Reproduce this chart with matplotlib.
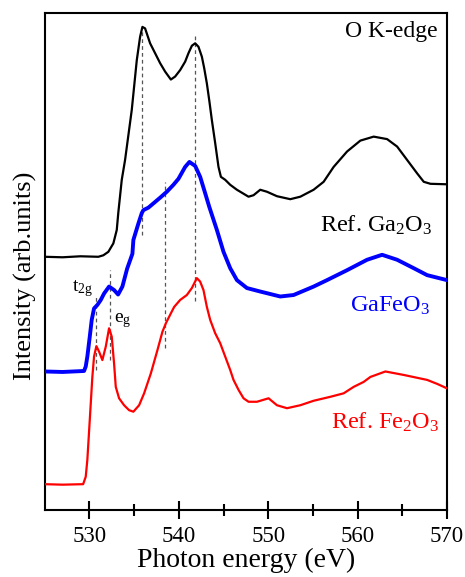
import matplotlib
matplotlib.use("Agg")
import matplotlib.pyplot as plt

plt.rcParams['font.family'] = ['Liberation Serif', 'DejaVu Serif']
plt.rcParams['mathtext.fontset'] = 'custom'
plt.rcParams['mathtext.rm'] = 'Liberation Serif'
plt.rcParams['mathtext.it'] = 'Liberation Serif:italic'

# ---- data (photon energy in eV, intensity in arb. units with offsets) ----
ga2o3_e = [525.0, 527.0, 529.0, 531.0, 531.56, 532.12, 532.68, 533.06, 533.24, 533.62, 533.99,
           534.74, 535.30, 535.67, 535.93, 536.23, 536.79, 537.35, 537.91, 538.47,
           539.11, 539.59, 540.15, 540.71, 541.08, 541.46, 541.83, 542.20, 542.58,
           542.84, 543.14, 543.43, 543.70, 544.07, 544.44, 544.71, 545.19, 545.75,
           546.50, 547.80, 548.36, 549.11, 549.86, 550.98, 552.47, 553.59, 555.08,
           556.20, 557.32, 558.82, 560.31, 561.80, 563.30, 564.42, 565.54, 566.66,
           567.40, 568.15, 570.0]
ga2o3_i = [50.9, 50.8, 51.0, 50.9, 51.2, 51.9, 53.6, 56.3, 59.9, 66.4, 70.4,
           80.5, 90.5, 95.2, 97.2, 96.9, 93.9, 91.9, 89.9, 88.2,
           86.6, 87.2, 88.5, 90.2, 91.9, 93.4, 93.9, 93.2, 91.2,
           88.9, 85.8, 82.1, 78.4, 73.8, 69.0, 67.0, 66.4, 65.4,
           64.4, 63.0, 63.3, 64.4, 64.0, 63.1, 62.5, 63.0, 64.4,
           66.0, 69.0, 72.1, 74.3, 75.1, 74.6, 73.1, 70.4, 67.7,
           66.0, 65.6, 65.5]

gafeo3_e = [525.0, 527.0, 529.40, 529.59, 529.77, 530.04, 530.26, 530.52, 530.89, 531.27,
            531.64, 532.20, 532.76, 533.21, 533.69, 534.22, 534.81, 534.92, 535.48,
            535.86, 536.04, 536.60, 537.91, 538.66, 539.40, 539.96, 540.71, 541.19,
            541.83, 542.39, 542.95, 543.40, 544.26, 545.00, 545.75, 546.50, 547.62,
            549.11, 551.35, 552.84, 555.08, 556.58, 558.82, 561.06, 562.74, 564.42,
            566.28, 567.78, 570.0]
gafeo3_i = [27.8, 27.7, 27.9, 28.8, 30.8, 34.8, 38.2, 40.5, 41.2, 42.2,
            43.5, 44.9, 44.2, 43.3, 44.9, 48.5, 51.5, 54.3, 57.6,
            59.7, 60.3, 60.8, 62.8, 64.0, 65.4, 66.6, 69.0, 70.0,
            69.2, 67.0, 63.7, 61.0, 56.3, 51.9, 48.6, 46.2, 44.6,
            43.9, 42.9, 43.2, 44.9, 46.2, 48.2, 50.3, 51.3, 50.3,
            48.6, 47.2, 46.2]

fe2o3_e = [525.0, 527.0, 529.3, 529.59, 529.77, 530.04, 530.33, 530.52, 530.78, 531.08,
           531.45, 531.83, 532.20, 532.50, 532.76, 532.95, 533.32, 533.88, 534.44,
           534.92, 535.56, 536.12, 536.87, 537.61, 538.17, 538.55, 539.11, 539.48,
           540.15, 540.90, 541.46, 542.02, 542.39, 542.76, 543.14, 543.51, 544.07,
           544.63, 545.19, 545.75, 546.12, 546.68, 547.24, 547.80, 548.74, 550.04,
           550.98, 552.10, 553.59, 555.08, 556.95, 558.44, 559.56, 560.68, 561.43,
           563.11, 565.16, 567.78, 568.90, 570.0]
fe2o3_i = [5.1, 5.0, 5.1, 6.6, 10.0, 18.0, 26.7, 30.8, 32.9, 31.8,
           30.1, 32.8, 36.5, 34.8, 29.4, 24.7, 22.4, 21.0, 20.0,
           19.7, 21.0, 23.4, 27.4, 32.1, 35.8, 37.5, 39.5, 40.8,
           42.2, 43.2, 44.6, 46.6, 45.9, 44.2, 40.8, 38.2, 35.5,
           33.5, 30.8, 28.1, 26.1, 24.1, 22.4, 21.7, 21.7, 22.4,
           21.0, 20.4, 21.0, 21.9, 22.7, 23.4, 24.7, 25.7, 26.7,
           27.8, 27.1, 26.1, 25.3, 24.4]

# dashed guide lines: energy, lower and upper intensity
guide_e = [535.93, 541.85, 538.45, 530.78, 532.28]
guide_lo = [55.3, 41.9, 32.5, 28.1, 30.1]
guide_hi = [96.6, 95.4, 66.0, 43.2, 48.2]

xticks_major = [530, 540, 550, 560, 570]
xticks_minor = [535, 545, 555, 565]

# ---- figure ----
fig = plt.figure(figsize=(4.65, 5.77), dpi=100)
ax = fig.add_axes([44.7 / 465, 1 - 509.5 / 577, (447 - 44.7) / 465, (509.5 - 13) / 577])

for e, lo, hi in zip(guide_e, guide_lo, guide_hi):
    ax.plot([e, e], [lo, hi], ls=(0, (3, 2.5)), color='#555555', lw=0.9, zorder=1)

ax.plot(ga2o3_e, ga2o3_i, color='black', lw=1.6, zorder=3)
ax.plot(gafeo3_e, gafeo3_i, color='#0000ff', lw=2.8, zorder=3)
ax.plot(fe2o3_e, fe2o3_i, color='#ff0000', lw=1.6, zorder=3)

ax.set_xlim(525, 570)
ax.set_ylim(0, 100)
ax.set_yticks([])
ax.set_xticks(xticks_major)
ax.set_xticks(xticks_minor, minor=True)
ax.tick_params(axis='x', which='major', direction='inout', length=13.5, width=1.5,
               labelsize=16.5, pad=5)
ax.tick_params(axis='x', which='minor', direction='inout', length=8, width=1.5)
for s in ax.spines.values():
    s.set_linewidth(1.5)

ax.set_xlabel('Photon energy (eV)', fontsize=20, labelpad=1)
ax.set_ylabel('Intensity (arb.units)', fontsize=19)
ax.yaxis.set_label_coords(-0.02, 0.47)

ax.text(568.9, 96.2, 'O K-edge', ha='right', va='center', fontsize=17)
ax.text(555.83, 55.95, r'Ref. Ga$_2$O$_3$', ha='left', va='baseline', fontsize=17.5, color='black')
ax.text(559.19, 39.8, r'GaFeO$_3$', ha='left', va='baseline', fontsize=17.5, color='#0000ff')
ax.text(557.03, 16.35, r'Ref. Fe$_2$O$_3$', ha='left', va='baseline', fontsize=17.5, color='#ff0000')
ax.text(528.09, 43.9, r't$_{\rm 2g}$', ha='left', va='baseline', fontsize=14)
ax.text(532.76, 37.8, r'e$_{\rm g}$', ha='left', va='baseline', fontsize=14)

fig.savefig('out.png', dpi=100)
